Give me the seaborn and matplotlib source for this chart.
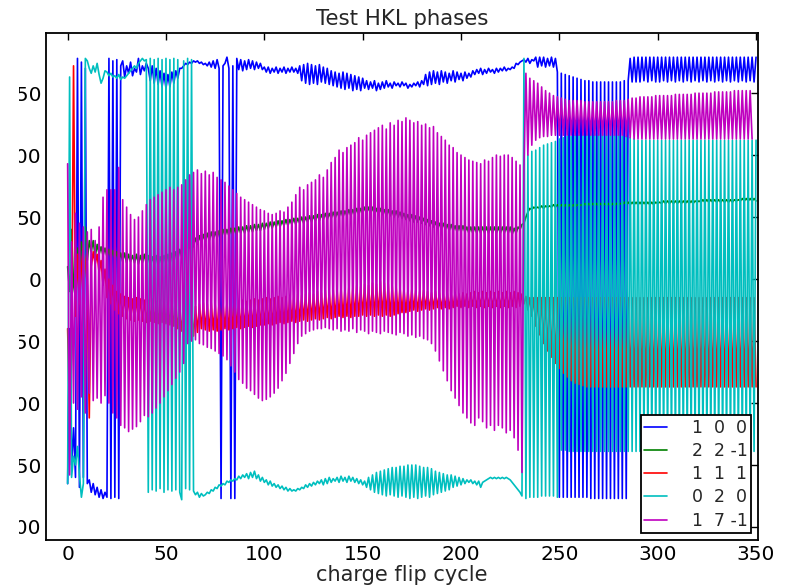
import numpy as np
import pandas as pd
import matplotlib
matplotlib.use("Agg")
import matplotlib.pyplot as plt
import seaborn as sns
from matplotlib.patches import Rectangle

# legend labels (h k l) and the classic b g r c m colours
hkl_labels = ["  1  0  0", "  2  2 -1", "  1  1  1", "  0  2  0", "  1  7 -1"]
line_colors = ["#0000ff", "#008000", "#ff0000", "#00bfbf", "#bf00bf"]

# phase (degrees) for each charge flip cycle 0..350
phase_100 = [
    -165, -40, -150, -120, -160, 178, -168, 175, -160, 170, -165, -162, -172, -165, -174, -168, -176, -170, -177, -172,
    -176, 178, -177, 176, -176, 177, -177, 172, 176, 163, 172, 166, 175, 164, 170, 167, 178, 165, 172, 168,
    174, 170, 160, 172, 158, 170, 157, 168, 155, 166, 154, 165, 155, 167, 158, 168, 162, 170, 170, 172,
    174, 173, 175, 174, 176, 175, 176, 174, 175, 173, 174, 172, 175, 171, 176, 170, 177, 170, -177, 172,
    174, 179, 170, -177, 172, -177, 178, 169, 177, 168, 176, 169, 177, 170, 176, 169, 175, 170, 174, 169,
    171, 167, 171, 166, 170, 167, 171, 166, 170, 167, 171, 166, 170, 167, 171, 167, 170, 166, 172, 160,
    173, 158, 174, 157, 173, 158, 172, 157, 173, 159, 171, 158, 170, 157, 168, 156, 167, 155, 166, 154,
    167, 153, 166, 154, 165, 152, 164, 153, 163, 152, 162, 154, 160, 153, 159, 154, 160, 152, 158, 153,
    159, 154, 160, 155, 158, 154, 159, 156, 158, 155, 159, 156, 158, 154, 157, 155, 158, 156, 159, 155,
    160, 157, 165, 156, 167, 157, 168, 158, 167, 157, 168, 159, 167, 158, 166, 160, 168, 159, 167, 161,
    166, 160, 167, 162, 166, 163, 168, 165, 169, 166, 170, 165, 169, 166, 170, 167, 169, 166, 170, 167,
    170, 168, 171, 168, 170, 169, 171, 170, 174, 173, 175, 176, 177, 175, 178, 174, 177, 176, 179, 171,
    179, 172, 179, 171, 178, 172, 179, 171, 178, 167, -176, 166, -176, 165, -176, 164, -176, 163, -176, 162,
    -176, 161, -176, 160, -176, 160, -177, 159, -177, 159, -177, 159, -177, 159, -177, 159, -177, 159, -177, 159,
    -177, 159, -177, 160, -177, 160, 178, 159, 179, 159, 179, 159, 179, 160, 179, 159, 179, 160, 179, 159,
    179, 159, 179, 160, 179, 159, 179, 160, 179, 159, 179, 160, 179, 159, 179, 160, 179, 159, 179, 160,
    179, 159, 179, 160, 179, 159, 179, 160, 179, 159, 179, 160, 179, 159, 179, 160, 179, 159, 179, 160,
    179, 159, 179, 160, 179, 159, 179, 160, 179, 159, 179,
]

phase_22m1 = [
    10, -10, 40, -5, -15, 25, 0, 30, 20, 42, 15, 31, 22, 31, 18, 28, 20, 26, 19, 25,
    18, 24, 17, 23, 16, 22, 15, 21, 14, 21, 13, 20, 14, 19, 13, 20, 12, 19, 13, 20,
    12, 19, 11, 18, 12, 19, 11, 18, 12, 19, 13, 20, 12, 21, 14, 22, 16, 24, 18, 26,
    22, 30, 25, 32, 26, 33, 28, 35, 29, 36, 30, 37, 31, 38, 32, 38, 33, 39, 34, 40,
    35, 40, 35, 41, 36, 41, 36, 42, 37, 42, 37, 43, 38, 43, 38, 44, 39, 44, 39, 45,
    40, 45, 41, 46, 41, 46, 42, 47, 42, 47, 43, 48, 43, 48, 44, 49, 44, 49, 45, 50,
    45, 50, 46, 51, 46, 51, 47, 52, 47, 52, 48, 53, 48, 53, 49, 54, 49, 54, 50, 55,
    50, 55, 51, 56, 51, 56, 52, 57, 52, 57, 53, 58, 53, 58, 53, 58, 52, 57, 52, 57,
    52, 56, 51, 56, 51, 55, 50, 55, 50, 54, 49, 53, 48, 52, 47, 52, 46, 51, 46, 50,
    45, 49, 44, 48, 43, 47, 42, 46, 41, 45, 40, 45, 40, 44, 39, 44, 39, 43, 38, 43,
    38, 43, 38, 42, 37, 42, 37, 42, 37, 42, 37, 42, 37, 42, 37, 42, 37, 42, 37, 42,
    37, 42, 37, 42, 37, 42, 36, 41, 37, 42, 40, 44, 45, 50, 54, 57, 56, 58, 57, 58,
    57, 59, 57, 59, 58, 59, 58, 60, 58, 60, 58, 60, 58, 60, 58, 60, 58, 60, 58, 60,
    59, 60, 59, 61, 59, 61, 59, 61, 59, 61, 59, 61, 59, 61, 59, 61, 59, 61, 59, 61,
    60, 61, 60, 62, 60, 62, 60, 62, 60, 62, 60, 62, 60, 62, 60, 62, 60, 62, 60, 62,
    61, 62, 61, 63, 61, 63, 61, 63, 61, 63, 61, 63, 61, 63, 61, 63, 61, 63, 61, 63,
    62, 63, 62, 64, 62, 64, 62, 64, 62, 64, 62, 64, 62, 64, 62, 64, 62, 64, 62, 64,
    63, 64, 63, 65, 63, 65, 63, 65, 63, 65, 63,
]

phase_111 = [
    -40, -115, -60, 172, -30, 20, -20, 10, 25, 15, -5, -112, 10, 22, 12, 20, 5, 15, -5, 8,
    -15, 0, -20, -5, -25, -10, -28, -12, -30, -14, -32, -15, -33, -16, -34, -15, -33, -16, -34, -17,
    -35, -17, -34, -16, -35, -18, -36, -17, -35, -18, -36, -19, -37, -18, -38, -20, -40, -22, -42, -25,
    -44, -26, -47, -25, -46, -22, -43, -20, -40, -19, -41, -20, -42, -19, -41, -20, -42, -19, -41, -20,
    -40, -19, -41, -18, -40, -19, -39, -18, -40, -17, -39, -18, -38, -17, -39, -16, -38, -17, -37, -16,
    -37, -15, -36, -16, -37, -15, -36, -14, -35, -15, -36, -14, -35, -13, -34, -14, -35, -12, -34, -13,
    -33, -12, -34, -11, -33, -12, -32, -10, -33, -11, -32, -9, -31, -10, -32, -8, -31, -9, -30, -7,
    -31, -8, -30, -6, -31, -7, -30, -5, -30, -6, -29, -4, -30, -5, -29, -3, -30, -4, -29, -2,
    -30, -3, -29, -4, -30, -5, -29, -6, -28, -7, -27, -8, -27, -9, -26, -8, -25, -9, -26, -10,
    -25, -9, -24, -10, -25, -11, -24, -10, -23, -11, -24, -12, -23, -11, -24, -12, -23, -11, -22, -12,
    -23, -11, -22, -12, -23, -11, -22, -10, -23, -11, -22, -10, -23, -11, -22, -10, -23, -11, -22, -10,
    -23, -11, -22, -10, -23, -11, -22, -10, -23, -11, -22, -12, -20, -14, -25, -15, -30, -15, -38, -15,
    -45, -15, -52, -15, -58, -15, -63, -15, -68, -15, -72, -15, -76, -15, -79, -15, -82, -15, -84, -15,
    -85, -15, -86, -15, -87, -15, -87, -15, -87, -15, -87, -15, -87, -15, -87, -15, -87, -15, -87, -15,
    -87, -15, -87, -15, -87, -15, -87, -15, -87, -15, -87, -15, -87, -15, -87, -15, -87, -15, -87, -15,
    -87, -15, -87, -15, -87, -15, -87, -15, -87, -15, -87, -15, -87, -15, -87, -15, -87, -15, -87, -15,
    -87, -15, -87, -15, -87, -15, -87, -15, -87, -15, -87, -15, -87, -15, -87, -15, -87, -15, -87, -15,
    -87, -15, -87, -15, -87, -15, -87, -15, -87, -15, -87,
]

phase_020 = [
    -165, 163, -160, -143, -150, -135, -158, -176, -165, 178, 176, 170, 166, 172, 167, 174, 165, 158, 162, 168,
    167, 164, 166, 163, 164, 162, 165, 161, 163, 162, 164, 166, 168, 170, 172, 170, 174, 176, 178, 176,
    177, -172, 178, -170, 177, -171, 178, -169, 177, -172, 178, -170, 177, -171, 178, -170, 177, -172, -178, 176,
    -169, 178, -170, 177, -171, -174, -172, -176, -173, -175, -174, -172, -173, -170, -171, -168, -169, -166, -167, -165,
    -166, -163, -164, -162, -163, -161, -162, -159, -161, -158, -160, -157, -161, -156, -160, -155, -161, -158, -163, -160,
    -164, -162, -166, -163, -167, -165, -168, -166, -169, -167, -170, -168, -171, -169, -171, -170, -171, -169, -170, -168,
    -169, -166, -168, -165, -167, -164, -166, -163, -165, -162, -166, -161, -165, -160, -164, -161, -163, -160, -164, -159,
    -163, -160, -164, -159, -163, -160, -164, -161, -165, -162, -166, -163, -168, -160, -170, -158, -172, -156, -173, -155,
    -174, -154, -175, -153, -174, -152, -175, -152, -176, -151, -175, -151, -176, -150, -177, -150, -176, -150, -177, -151,
    -176, -152, -175, -152, -176, -153, -174, -155, -173, -156, -172, -157, -171, -158, -170, -158, -168, -159, -167, -160,
    -166, -161, -165, -162, -164, -162, -165, -163, -166, -163, -168, -164, -163, -162, -161, -160, -161, -160, -161, -160,
    -161, -160, -161, -160, -161, -162, -164, -166, -168, -170, -172, -175, 178, -177, 100, -176, 103, -176, 104, -176,
    106, -175, 108, -175, 109, -175, 110, -175, 111, -176, 113, -138, 114, -138, 115, -139, 115, -139, 116, -139,
    116, -139, 117, -139, 117, -139, 117, -139, 117, -139, 117, -139, 117, -139, 116, -139, 116, -139, 116, -139,
    116, -139, 115, -139, 115, -139, 114, -139, 113, -139, 112, -139, 112, -139, 112, -139, 112, -139, 112, -139,
    112, -139, 112, -139, 112, -139, 112, -139, 112, -139, 112, -139, 112, -139, 112, -139, 112, -139, 112, -139,
    112, -139, 112, -139, 112, -139, 112, -139, 112, -139, 112, -139, 112, -139, 112, -139, 112, -139, 112, -139,
    112, -139, 112, -139, 112, -139, 112, -139, 112, -139, 112,
]

phase_17m1 = [
    93, -158, 30, -100, 53, -105, 45, -95, 42, -108, 38, -92, 40, -98, 31, -96, 42, -100, 66, -94,
    72, -100, 72, -108, 72, -112, 90, -118, 64, -120, 58, -123, 52, -121, 48, -119, 50, -115, 55, -110,
    60, -111, 64, -108, 66, -104, 68, -100, 70, -95, 72, -90, 74, -85, 72, -80, 74, -75, 76, -68,
    80, -52, 84, -50, 86, -49, 88, -52, 85, -53, 87, -55, 84, -56, 86, -58, 82, -60, 80, -62,
    78, -65, 75, -70, 72, -75, 69, -81, 66, -84, 64, -88, 62, -90, 60, -93, 58, -96, 56, -98,
    55, -97, 53, -95, 52, -92, 53, -88, 55, -82, 54, -76, 58, -68, 62, -60, 68, -52, 74, -46,
    72, -44, 76, -42, 78, -41, 80, -40, 84, -40, 82, -39, 88, -40, 94, -41, 98, -40, 104, -42,
    102, -41, 106, -42, 108, -40, 110, -43, 114, -41, 112, -42, 116, -44, 118, -42, 120, -43, 122, -44,
    124, -42, 121, -43, 126, -44, 124, -45, 128, -43, 127, -44, 130, -46, 128, -45, 126, -47, 127, -46,
    124, -48, 125, -49, 122, -52, 123, -58, 118, -66, 115, -74, 112, -82, 108, -90, 106, -96, 102, -102,
    100, -108, 98, -112, 96, -116, 95, -118, 94, -112, 93, -115, 96, -120, 95, -118, 98, -122, 100, -118,
    99, -120, 100, -124, 100, -122, 98, -128, 95, -138, 92, -156, 90, 166, 100, 162, 108, 160, 112, 158,
    114, 155, 115, 152, 115, 150, 116, 148, 116, 147, 116, 146, 116, 145, 116, 144, 116, 144, 116, 144,
    116, 144, 116, 143, 116, 143, 116, 143, 116, 143, 116, 143, 116, 143, 116, 143, 116, 143, 116, 144,
    116, 144, 116, 144, 115, 145, 114, 146, 113, 146, 113, 147, 113, 147, 113, 147, 113, 147, 113, 148,
    113, 148, 113, 148, 113, 148, 113, 148, 113, 149, 113, 149, 113, 149, 113, 149, 113, 149, 113, 150,
    113, 150, 113, 150, 113, 150, 113, 150, 113, 151, 113, 151, 113, 151, 113, 151, 113, 151, 113, 152,
    113, 152, 113, 152, 113, 152, 113, 152, 113,
]

series = [phase_100, phase_22m1, phase_111, phase_020, phase_17m1]

frames = []
for lab, vals in zip(hkl_labels, series):
    frames.append(pd.DataFrame({"cycle": np.arange(len(vals)), "phase": vals, "hkl": lab}))
df = pd.concat(frames, ignore_index=True)

sns.set_theme(style="white")
plt.rcParams["font.family"] = ["DejaVu Sans"]

fig = plt.figure(figsize=(7.86, 5.86), dpi=100)
ax = fig.add_axes([46 / 786, 46 / 586, 712 / 786, 507 / 586])

sns.lineplot(data=df, x="cycle", y="phase", hue="hkl", hue_order=hkl_labels,
             palette=line_colors, estimator=None, sort=False, legend=False,
             lw=1.2, ax=ax)

ax.set_xlim(-11, 351)
ax.set_ylim(-210.5, 198.5)
ax.set_xticks(range(0, 351, 50))
ax.set_yticks(range(-200, 151, 50))
ax.set_title("Test HKL phases", fontsize=15.3, pad=6)
ax.set_xlabel("charge flip cycle", fontsize=15, labelpad=1)
ax.set_ylabel("")
ax.tick_params(direction="in", length=5, width=1, top=True, right=True,
               labelsize=14.5, colors="black")
ax.tick_params(axis="y", pad=3)
for s in ax.spines.values():
    s.set_color("black")
    s.set_linewidth(1.3)

leg = ax.legend(ax.lines, hkl_labels, loc="lower right", fontsize=12.5,
                fancybox=False, framealpha=1, edgecolor="black",
                handlelength=1.3, handletextpad=0.8, labelspacing=0.3,
                borderpad=0.2, borderaxespad=0.4)
leg.get_frame().set_linewidth(1.3)

# the reference is cut off at the left, hiding the first digits of the y labels
fig.add_artist(Rectangle((0, 0), 19 / 786, 1, transform=fig.transFigure,
                         facecolor="white", edgecolor="none", zorder=10))

fig.savefig("out.png", dpi=100)
